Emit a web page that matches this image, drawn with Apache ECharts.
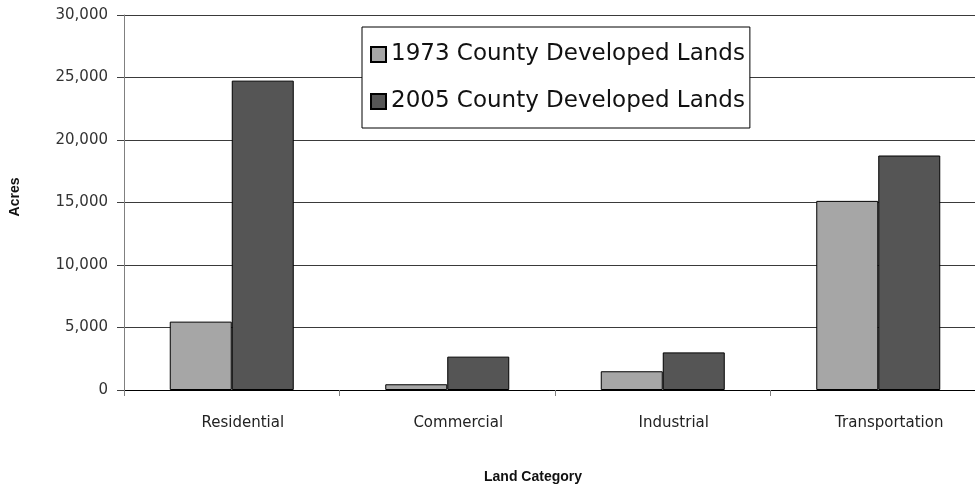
<!DOCTYPE html>
<html>
<head>
<meta charset="utf-8">
<script src="https://cdn.jsdelivr.net/npm/echarts@6/dist/echarts.min.js"></script>
<style>
  html, body { margin: 0; padding: 0; background: #ffffff; }
  #chart { width: 975px; height: 491px; }
</style>
</head>
<body>
<div id="chart"></div>
<script>
// Land categories on the horizontal axis
const categories = ['Residential', 'Commercial', 'Industrial', 'Transportation'];

// Developed acreage by year
const series1973 = [5470, 460, 1500, 15130];
const series2005 = [24750, 2670, 3010, 18760];

const seriesNames = ['1973 County Developed Lands', '2005 County Developed Lands'];

// Value axis range
const yMin = 0;
const yMax = 30000;
const yStep = 5000;

const labelFont = '"DejaVu Sans", sans-serif';
const titleFont = '"Liberation Sans", Arial, sans-serif';

const chart = echarts.init(document.getElementById('chart'), null, { renderer: 'canvas' });

chart.setOption({
  backgroundColor: '#ffffff',
  animation: false,
  // plot area runs past the right edge of the canvas
  grid: { left: 124, width: 862, top: 15, height: 375, containLabel: false, outerBoundsMode: 'none' },
  legend: {
    orient: 'vertical',
    left: 362,
    top: 27,
    padding: [16, 5, 15, 8],
    itemGap: 24,
    itemWidth: 15,
    itemHeight: 15,
    icon: 'rect',
    backgroundColor: '#ffffff',
    borderColor: '#000000',
    borderWidth: 1,
    borderRadius: 0,
    textStyle: { fontFamily: labelFont, fontSize: 23, color: '#111111' },
    data: seriesNames
  },
  xAxis: {
    type: 'category',
    data: categories,
    axisLine: { show: true, lineStyle: { color: '#000000', width: 1 } },
    axisTick: { show: true, alignWithLabel: false, length: 6, lineStyle: { color: '#808080' } },
    axisLabel: {
      margin: 26,
      fontFamily: labelFont,
      fontSize: 15,
      color: '#222222',
      padding: [0, 0, 0, 22]
    },
    splitLine: { show: false }
  },
  yAxis: {
    type: 'value',
    min: yMin,
    max: yMax,
    interval: yStep,
    axisLine: { show: true, lineStyle: { color: '#808080', width: 1 } },
    axisTick: { show: true, length: 7, lineStyle: { color: '#404040' } },
    axisLabel: {
      margin: 16,
      fontFamily: labelFont,
      fontSize: 15,
      color: '#333333',
      formatter: v => v.toLocaleString('en-US')
    },
    splitLine: { show: true, lineStyle: { color: '#3a3a3a', width: 1 } }
  },
  graphic: [
    {
      type: 'text',
      x: 15,
      y: 197,
      rotation: Math.PI / 2,
      style: {
        text: 'Acres',
        fontFamily: titleFont,
        fontWeight: 'bold',
        fontSize: 14,
        fill: '#111111',
        align: 'center',
        verticalAlign: 'middle'
      }
    },
    {
      type: 'text',
      x: 533,
      y: 477,
      style: {
        text: 'Land Category',
        fontFamily: titleFont,
        fontWeight: 'bold',
        fontSize: 14,
        fill: '#111111',
        align: 'center',
        verticalAlign: 'middle'
      }
    }
  ],
  series: [
    {
      name: seriesNames[0],
      type: 'bar',
      data: series1973,
      barWidth: 62,
      barGap: '0%',
      itemStyle: { color: '#a6a6a6', borderColor: '#000000', borderWidth: 1 }
    },
    {
      name: seriesNames[1],
      type: 'bar',
      data: series2005,
      barWidth: 62,
      barGap: '0%',
      itemStyle: { color: '#555555', borderColor: '#000000', borderWidth: 1 }
    }
  ]
});
</script>
</body>
</html>
